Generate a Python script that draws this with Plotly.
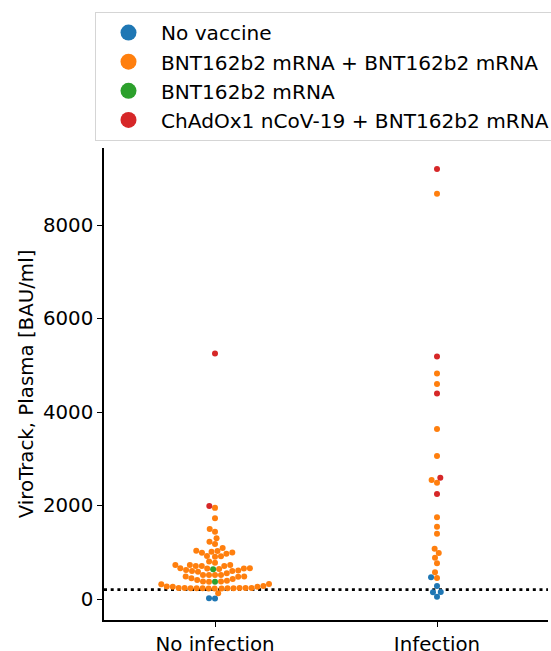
import numpy as np
import plotly.graph_objects as go

# ---------------- data ----------------
categories = ["No infection", "Infection"]
hues = ["No vaccine", "BNT162b2 mRNA + BNT162b2 mRNA", "BNT162b2 mRNA",
        "ChAdOx1 nCoV-19 + BNT162b2 mRNA"]
colors = ["#1f77b4", "#ff7f0e", "#2ca02c", "#d62728"]

no_inf_no_vaccine = [12, 18]
no_inf_bnt_bnt = [121,
                  225, 226, 227, 228, 229, 230, 231, 232, 233, 234, 235, 236, 237,
                  262, 264, 266, 278, 318, 322,
                  371, 372, 392, 406, 428, 442, 375,
                  478, 479, 480, 513, 514, 513, 515, 549,
                  585, 600, 601, 610, 620, 650, 656, 657, 655, 640,
                  706, 707, 708, 727, 728, 726, 775, 800,
                  905, 915, 920,
                  970, 990, 995, 1010, 1025, 1030,
                  1091, 1176, 1226, 1300,
                  1440, 1500, 1725, 1950]
no_inf_bnt = [370, 635]
no_inf_chad = [1990, 5250]

inf_no_vaccine = [50, 145, 150, 278, 463]
inf_bnt_bnt = [449, 570, 763, 884, 984, 1077, 1397, 1547, 1747,
               2488, 2545, 3059, 3636, 4600, 4825, 8670]
inf_bnt = []
inf_chad = [2245, 2595, 4395, 5185, 9200]

groups = {
    "No infection": [no_inf_no_vaccine, no_inf_bnt_bnt, no_inf_bnt, no_inf_chad],
    "Infection": [inf_no_vaccine, inf_bnt_bnt, inf_bnt, inf_chad],
}
threshold = 200
y_ticks = [0, 2000, 4000, 6000, 8000]
y_range = [-449, 9647]

# ---------------- layout geometry (page body margin removed below) ----------------
W, H = 551, 651
ML, MR, MT, MB = 104, 3, 148, 31
plot_w = W - ML - MR
plot_h = H - MT - MB
x_range = [-0.5, 1.5]
px_per_y = plot_h / (y_range[1] - y_range[0])
px_per_x = plot_w / (x_range[1] - x_range[0])
DOT = 6.0
FONT = "DejaVu Sans"
FS = 19.8
LEG_FS = 20.1


def beeswarm(values, d=DOT):
    ys = np.asarray(values, dtype=float) * px_per_y
    order = np.argsort(ys, kind="stable")
    xs = np.zeros(len(ys))
    placed = []
    for i in order:
        y = ys[i]
        neigh = [(px, py) for px, py in placed if abs(py - y) < d]
        cands = [0.0]
        for px, py in neigh:
            dx = np.sqrt(d * d - (py - y) ** 2)
            cands += [px - dx, px + dx]
        cands.sort(key=abs)
        for c in cands:
            if all((c - px) ** 2 + (y - py) ** 2 >= d * d - 1e-6 for px, py in neigh):
                xs[i] = c
                break
        placed.append((xs[i], y))
    return xs / px_per_x


fig = go.Figure()

for ci, cat in enumerate(categories):
    vals, hue_idx = [], []
    for hi, arr in enumerate(groups[cat]):
        vals += list(arr)
        hue_idx += [hi] * len(arr)
    offs = beeswarm(vals)
    for hi in range(len(hues)):
        sel = [k for k in range(len(vals)) if hue_idx[k] == hi]
        if not sel:
            continue
        fig.add_trace(go.Scatter(
            x=[ci + offs[k] for k in sel], y=[vals[k] for k in sel],
            mode="markers", showlegend=False,
            marker=dict(size=DOT, color=colors[hi], line=dict(width=0)),
            hoverinfo="y"))

# legend-only entries
for hi, name in enumerate(hues):
    fig.add_trace(go.Scatter(
        x=[None], y=[None], mode="markers", name=name,
        marker=dict(size=16, color=colors[hi], line=dict(width=0))))

fig.add_shape(type="line", xref="paper", x0=0, x1=1, yref="y",
              y0=threshold, y1=threshold, layer="below",
              line=dict(color="black", width=2.6, dash="3px,3.7px"))

axis_common = dict(showline=True, linecolor="black", linewidth=1.6,
                   ticks="outside", ticklen=5, tickwidth=1.4, tickcolor="black",
                   showgrid=False, zeroline=False,
                   tickfont=dict(family=FONT, size=FS, color="black"))

fig.update_layout(
    width=W, height=H,
    margin=dict(l=ML, r=MR, t=MT, b=MB, autoexpand=False),
    paper_bgcolor="white", plot_bgcolor="white",
    font=dict(family=FONT, size=FS, color="black"),
    xaxis=dict(range=x_range, tickmode="array", tickvals=[0, 1],
               ticktext=categories, **axis_common),
    yaxis=dict(range=y_range, tickmode="array", tickvals=y_ticks,
               ticktext=[str(t) for t in y_ticks],
               title=dict(text="ViroTrack, Plasma [BAU/ml]", standoff=4,
                          font=dict(family=FONT, size=FS, color="black")),
               **axis_common),
    legend=dict(x=(95 - ML) / plot_w, xanchor="left",
                y=(H - MB - 12) / plot_h, yanchor="top",
                bordercolor="#d5d5d5", borderwidth=1, bgcolor="white",
                font=dict(family=FONT, size=LEG_FS, color="black"),
                itemwidth=55, tracegroupgap=0),
    showlegend=True,
)

fig.write_html("out.html",
               config={"displayModeBar": False},
               post_script="document.body.style.margin='0';"
                           "document.body.style.overflow='hidden';")
